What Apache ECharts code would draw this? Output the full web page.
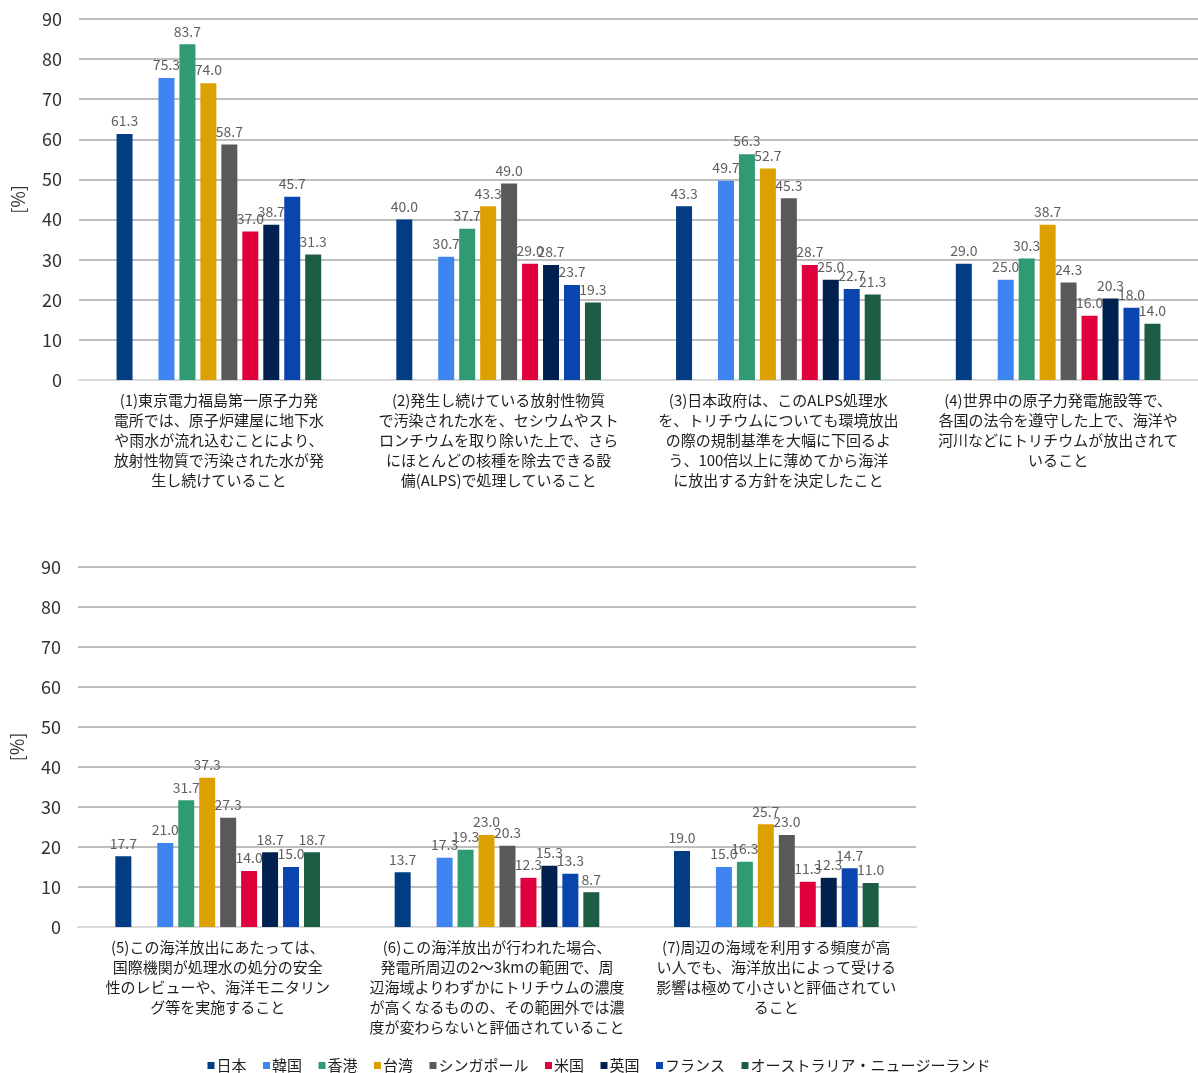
<!DOCTYPE html>
<html>
<head>
<meta charset="utf-8">
<script src="https://cdn.jsdelivr.net/npm/echarts@6/dist/echarts.min.js"></script>
<style>
  html, body { margin: 0; padding: 0; background: #fff; }
  #chart { width: 1198px; height: 1073px; }
</style>
</head>
<body>
<div id="chart"></div>
<script>
// Survey items (statements), split into the two panels
const topCategories = [
  '(1)東京電力福島第一原子力発\n電所では、原子炉建屋に地下水\nや雨水が流れ込むことにより、\n放射性物質で汚染された水が発\n生し続けていること',
  '(2)発生し続けている放射性物質\nで汚染された水を、セシウムやスト\nロンチウムを取り除いた上で、さら\nにほとんどの核種を除去できる設\n備(ALPS)で処理していること',
  '(3)日本政府は、このALPS処理水\nを、トリチウムについても環境放出\nの際の規制基準を大幅に下回るよ\nう、100倍以上に薄めてから海洋\nに放出する方針を決定したこと',
  '(4)世界中の原子力発電施設等で、\n各国の法令を遵守した上で、海洋や\n河川などにトリチウムが放出されて\nいること'
];
const bottomCategories = [
  '(5)この海洋放出にあたっては、\n国際機関が処理水の処分の安全\n性のレビューや、海洋モニタリン\nグ等を実施すること',
  '(6)この海洋放出が行われた場合、\n発電所周辺の2～3kmの範囲で、周\n辺海域よりわずかにトリチウムの濃度\nが高くなるものの、その範囲外では濃\n度が変わらないと評価されていること',
  '(7)周辺の海域を利用する頻度が高\nい人でも、海洋放出によって受ける\n影響は極めて小さいと評価されてい\nること'
];

// Regions / countries (legend order)
const regions = ['日本', '韓国', '香港', '台湾', 'シンガポール', '米国', '英国', 'フランス', 'オーストラリア・ニュージーランド'];

// Percentages per region, items (1)..(7)
const japan     = [61.3, 40.0, 43.3, 29.0, 17.7, 13.7, 19.0];
const korea     = [75.3, 30.7, 49.7, 25.0, 21.0, 17.3, 15.0];
const hongKong  = [83.7, 37.7, 56.3, 30.3, 31.7, 19.3, 16.3];
const taiwan    = [74.0, 43.3, 52.7, 38.7, 37.3, 23.0, 25.7];
const singapore = [58.7, 49.0, 45.3, 24.3, 27.3, 20.3, 23.0];
const usa       = [37.0, 29.0, 28.7, 16.0, 14.0, 12.3, 11.3];
const uk        = [38.7, 28.7, 25.0, 20.3, 18.7, 15.3, 12.3];
const france    = [45.7, 23.7, 22.7, 18.0, 15.0, 13.3, 14.7];
const ausNz     = [31.3, 19.3, 21.3, 14.0, 18.7, 8.7, 11.0];

const yTicks = { min: 0, max: 90, interval: 10 };

const regionValues = [japan, korea, hongKong, taiwan, singapore, usa, uk, france, ausNz];
const regionColors = ['#023c82', '#3e85f2', '#2f9b72', '#dca100', '#595959', '#e0003c', '#00214f', '#0a45ae', '#1c5d44'];

const TOP_COUNT = topCategories.length;
const FONT = 'Noto Sans CJK JP';

function buildSeries(gridIdx, slice) {
  const out = [];
  regionValues.forEach((vals, i) => {
    out.push({
      name: regions[i],
      type: 'bar',
      xAxisIndex: gridIdx,
      yAxisIndex: gridIdx,
      data: slice(vals),
      barWidth: 16,
      barGap: '31%',
      itemStyle: { color: regionColors[i] },
      label: {
        show: true,
        position: 'top',
        distance: 6,
        color: '#5f5f5f',
        fontSize: 14,
        fontFamily: FONT,
        formatter: p => p.value.toFixed(1)
      },
      emphasis: { disabled: true }
    });
    // empty slot that separates Japan from the other regions
    if (i === 0) {
      out.push({
        name: '_spacer',
        type: 'bar',
        xAxisIndex: gridIdx,
        yAxisIndex: gridIdx,
        data: slice(vals).map(() => null),
        barWidth: 16,
        barGap: '31%'
      });
    }
  });
  return out;
}

const series = [
  ...buildSeries(0, v => v.slice(0, TOP_COUNT)),
  ...buildSeries(1, v => v.slice(TOP_COUNT))
];

function xAxisFor(gridIdx, cats) {
  return {
    type: 'category',
    gridIndex: gridIdx,
    data: cats,
    axisTick: { show: false },
    axisLine: { lineStyle: { color: '#d9d9d9', width: 2 } },
    axisLabel: {
      interval: 0,
      margin: 10,
      color: '#1e1e1e',
      fontSize: 15,
      lineHeight: 20,
      fontFamily: FONT
    }
  };
}

function yAxisFor(gridIdx) {
  return {
    type: 'value',
    gridIndex: gridIdx,
    min: yTicks.min,
    max: yTicks.max,
    interval: yTicks.interval,
    name: '[%]',
    nameLocation: 'middle',
    nameGap: 52,
    nameTextStyle: { color: '#333', fontSize: 18, fontFamily: FONT },
    axisLine: { show: false },
    axisTick: { show: false },
    axisLabel: { color: '#333', fontSize: 18, margin: 17, fontFamily: FONT },
    splitLine: { lineStyle: { color: '#a8a8a8', width: 1.5 } }
  };
}

const chart = echarts.init(document.getElementById('chart'), null, { renderer: 'canvas' });
chart.setOption({
  animation: false,
  backgroundColor: '#ffffff',
  grid: [
    { left: 79, top: 19, width: 1119, height: 361 },
    { left: 77, top: 567, width: 839, height: 360 }
  ],
  xAxis: [xAxisFor(0, topCategories), xAxisFor(1, bottomCategories)],
  yAxis: [yAxisFor(0), yAxisFor(1)],
  legend: {
    data: regions,
    top: 1053,
    left: 'center',
    icon: 'rect',
    itemWidth: 7,
    itemHeight: 7,
    itemGap: 16.5,
    textStyle: { color: '#1e1e1e', fontSize: 15, fontFamily: FONT, padding: [0, 0, 0, -3] }
  },
  series: series
});
</script>
</body>
</html>
